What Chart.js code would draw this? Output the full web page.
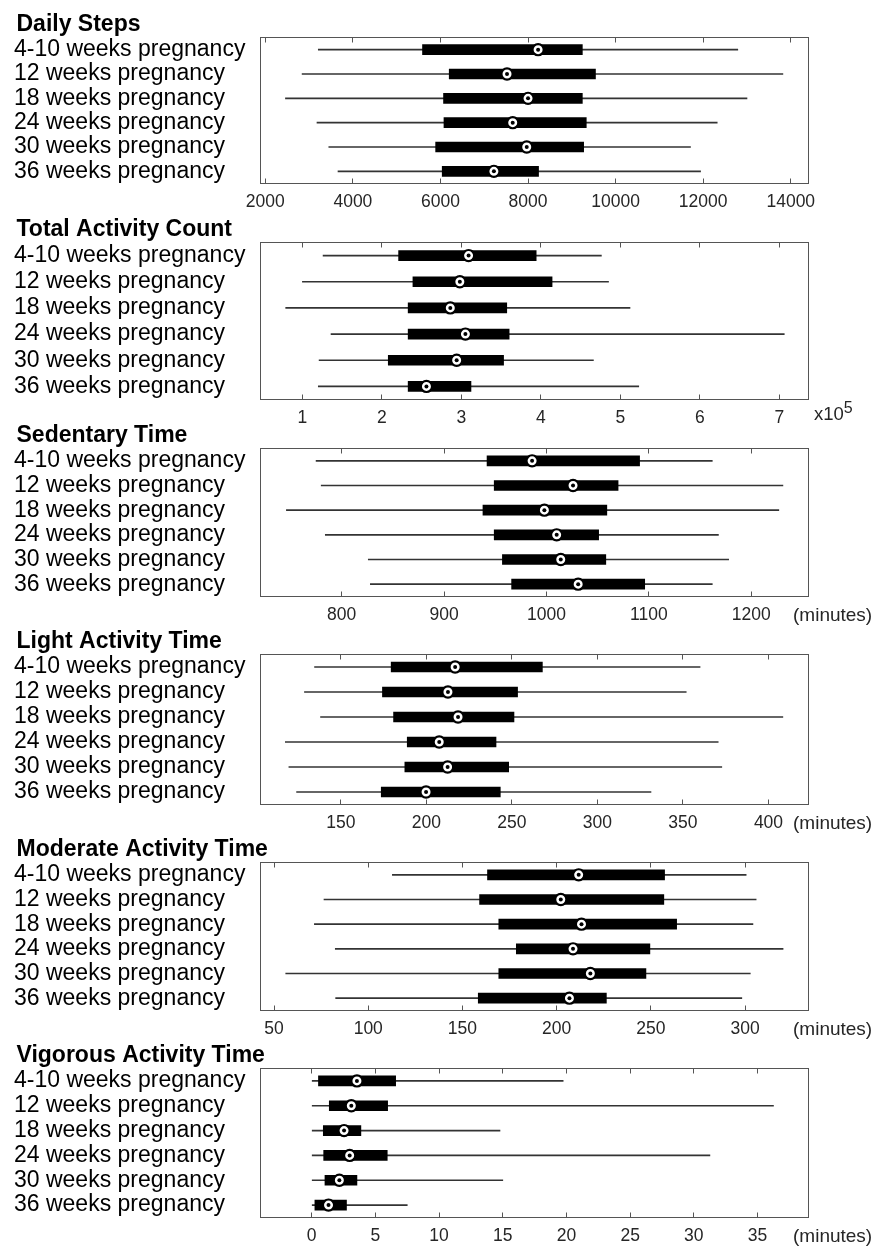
<!DOCTYPE html>
<html>
<head>
<meta charset="utf-8">
<script src="https://cdn.jsdelivr.net/npm/chart.js@4.4.1/dist/chart.umd.min.js"></script>
<style>
  html, body { margin: 0; padding: 0; background: #fff; overflow: hidden; }
  body { position: relative; width: 882px; height: 1248px; }
  canvas { position: absolute; left: 0; }
</style>
</head>
<body>
<script>
const categories = ['4-10 weeks pregnancy', '12 weeks pregnancy', '18 weeks pregnancy',
                    '24 weeks pregnancy', '30 weeks pregnancy', '36 weeks pregnancy'];

// Daily Steps
const stepsLow = [3210, 2840, 2460, 3180, 3450, 3660];
const stepsQ1 = [5590, 6200, 6070, 6080, 5890, 6040];
const stepsMedian = [8230, 7520, 8000, 7650, 7970, 7220];
const stepsQ3 = [9240, 9540, 9240, 9330, 9270, 8240];
const stepsHigh = [12790, 13820, 13000, 12320, 11710, 11940];
const stepsTicks = [2000, 4000, 6000, 8000, 10000, 12000, 14000];

// Total Activity Count (x10^5)
const countLow = [1.26, 1.00, 0.79, 1.36, 1.21, 1.20];
const countQ1 = [2.21, 2.39, 2.33, 2.33, 2.08, 2.33];
const countMedian = [3.09, 2.98, 2.86, 3.05, 2.94, 2.56];
const countQ3 = [3.94, 4.14, 3.57, 3.60, 3.53, 3.12];
const countHigh = [4.76, 4.85, 5.12, 7.06, 4.66, 5.23];
const countTicks = [1, 2, 3, 4, 5, 6, 7];

// Sedentary Time (minutes)
const sedLow = [775, 780, 746, 784, 826, 828];
const sedQ1 = [942, 949, 938, 949, 957, 966];
const sedMedian = [986, 1026, 998, 1010, 1014, 1031];
const sedQ3 = [1091, 1070, 1059, 1051, 1058, 1096];
const sedHigh = [1162, 1231, 1227, 1168, 1178, 1162];
const sedTicks = [800, 900, 1000, 1100, 1200];

// Light Activity Time (minutes)
const lightLow = [134.6, 128.7, 138.1, 117.5, 119.6, 124.1];
const lightQ1 = [179.4, 174.3, 180.8, 188.8, 187.4, 173.6];
const lightMedian = [216.8, 212.6, 218.5, 207.5, 212.4, 199.8];
const lightQ3 = [267.8, 253.3, 251.2, 240.7, 248.1, 243.2];
const lightHigh = [360, 351.9, 408.4, 370.6, 372.7, 331.3];
const lightTicks = [150, 200, 250, 300, 350, 400];

// Moderate Activity Time (minutes)
const modLow = [112.8, 76.5, 71.4, 82.5, 56.2, 82.7];
const modQ1 = [163.3, 159.1, 169.3, 178.6, 169.3, 158.4];
const modMedian = [211.7, 202.2, 213.2, 208.7, 217.9, 206.8];
const modQ3 = [257.3, 256.9, 263.7, 249.5, 247.4, 226.4];
const modHigh = [300.6, 305.9, 304.2, 320.2, 302.8, 298.3];
const modTicks = [50, 100, 150, 200, 250, 300];

// Vigorous Activity Time (minutes)
const vigLow = [0, 0, 0, 0, 0, 0];
const vigQ1 = [0.53, 1.38, 0.91, 0.94, 1.04, 0.25];
const vigMedian = [3.55, 3.11, 2.54, 2.98, 2.17, 1.32];
const vigQ3 = [6.59, 5.96, 3.86, 5.93, 3.55, 2.73];
const vigHigh = [19.74, 36.25, 14.78, 31.26, 15.0, 7.5];
const vigTicks = [0, 5, 10, 15, 20, 25, 30, 35];

const panels = [
  { title: 'Daily Steps', low: stepsLow, q1: stepsQ1, median: stepsMedian, q3: stepsQ3, high: stepsHigh, ticks: stepsTicks, min: 1890, max: 14405, unit: null, exponent: null },
  { title: 'Total Activity Count', low: countLow, q1: countQ1, median: countMedian, q3: countQ3, high: countHigh, ticks: countTicks, min: 0.473, max: 7.365, unit: null, exponent: '5' },
  { title: 'Sedentary Time', low: sedLow, q1: sedQ1, median: sedMedian, q3: sedQ3, high: sedHigh, ticks: sedTicks, min: 720.7, max: 1256, unit: '(minutes)', exponent: null },
  { title: 'Light Activity Time', low: lightLow, q1: lightQ1, median: lightMedian, q3: lightQ3, high: lightHigh, ticks: lightTicks, min: 103, max: 423.4, unit: '(minutes)', exponent: null },
  { title: 'Moderate Activity Time', low: modLow, q1: modQ1, median: modMedian, q3: modQ3, high: modHigh, ticks: modTicks, min: 42.8, max: 333.7, unit: '(minutes)', exponent: null },
  { title: 'Vigorous Activity Time', low: vigLow, q1: vigQ1, median: vigMedian, q3: vigQ3, high: vigHigh, ticks: vigTicks, min: -4.02, max: 39.0, unit: '(minutes)', exponent: null }
];

// plot frame top/bottom of each panel on the page
const frames = [[37.5, 183.5], [242.5, 399.5], [448.5, 596.5], [654.5, 804.5], [862.5, 1010.5], [1068.5, 1217.5]];

const family = "'Liberation Sans', Arial, Helvetica, sans-serif";
const TOP_SPACE = 30.5;
const X_AXIS_H = 34.5;

const framePlugin = {
  id: 'frame',
  afterDatasetsDraw(chart) {
    const { ctx, chartArea: a } = chart;
    ctx.save();
    ctx.strokeStyle = '#555';
    ctx.lineWidth = 1;
    ctx.strokeRect(a.left, a.top, a.right - a.left, a.bottom - a.top);
    ctx.restore();
  }
};

const panelText = {
  id: 'panelText',
  afterDraw(chart, args, opts) {
    const { ctx, chartArea: a } = chart;
    ctx.save();
    ctx.textBaseline = 'alphabetic';
    ctx.textAlign = 'left';
    ctx.fillStyle = '#000';
    ctx.font = 'bold 23px ' + family;
    ctx.fillText(opts.title, 16.5, a.top - 6.6);
    ctx.fillStyle = '#262626';
    if (opts.unit) {
      ctx.font = '19px ' + family;
      ctx.fillText(opts.unit, 793, a.bottom + 24);
    }
    if (opts.exponent) {
      ctx.font = '18.5px ' + family;
      ctx.fillText('x10', 814, a.bottom + 20.8);
      const w = ctx.measureText('x10').width;
      ctx.font = '16px ' + family;
      ctx.fillText(opts.exponent, 814 + w, a.bottom + 13.7);
    }
    ctx.restore();
  }
};

function tickAxis(p, position) {
  return {
    type: 'linear',
    position: position,
    min: p.min,
    max: p.max,
    afterBuildTicks: ax => { ax.ticks = p.ticks.map(v => ({ value: v })); },
    afterFit: ax => { ax.height = position === 'bottom' ? X_AXIS_H : 0; },
    grid: { drawOnChartArea: false, drawTicks: true, tickLength: -5, color: '#555', lineWidth: 1 },
    border: { display: false },
    ticks: {
      display: position === 'bottom',
      padding: 13.3,
      color: '#262626',
      font: { family: family, size: 17.5 },
      maxRotation: 0,
      autoSkip: false,
      callback: v => String(v)
    }
  };
}

panels.forEach((p, k) => {
  const frame = frames[k];
  const canvasTop = frame[0] - TOP_SPACE;
  const height = frame[1] - canvasTop + X_AXIS_H;
  const canvas = document.createElement('canvas');
  canvas.width = 882;
  canvas.height = height;
  canvas.style.top = canvasTop + 'px';
  canvas.style.width = '882px';
  canvas.style.height = height + 'px';
  document.body.appendChild(canvas);

  new Chart(canvas, {
    type: 'bar',
    data: {
      labels: categories,
      datasets: [
        { label: 'median dot', type: 'line', data: p.median, showLine: false,
          pointRadius: 2, pointBorderWidth: 0, pointBackgroundColor: '#000', order: 0 },
        { label: 'median', type: 'line', data: p.median, showLine: false,
          pointRadius: 5.6, pointBorderWidth: 2.2, pointBackgroundColor: '#fff', pointBorderColor: '#000', order: 1 },
        { label: 'interquartile', data: p.q1.map((v, i) => [v, p.q3[i]]),
          backgroundColor: '#000', barThickness: 10, grouped: false, order: 2 },
        { label: 'range', data: p.low.map((v, i) => [v, p.high[i]]),
          backgroundColor: '#333', barThickness: 1, grouped: false, order: 3 }
      ]
    },
    options: {
      indexAxis: 'y',
      responsive: false,
      animation: false,
      events: [],
      layout: { padding: { left: 14, right: 73.5, top: TOP_SPACE, bottom: 0 } },
      scales: {
        x: tickAxis(p, 'bottom'),
        x2: tickAxis(p, 'top'),
        y: {
          type: 'category',
          offset: true,
          grid: { display: false },
          border: { display: false },
          afterFit: ax => { ax.width = 246.5; },
          ticks: { crossAlign: 'far', color: '#000', autoSkip: false, font: { family: family, size: 23 } }
        }
      },
      plugins: {
        legend: { display: false },
        tooltip: { enabled: false },
        panelText: { title: p.title, unit: p.unit, exponent: p.exponent }
      }
    },
    plugins: [framePlugin, panelText]
  });
});
</script>
</body>
</html>
